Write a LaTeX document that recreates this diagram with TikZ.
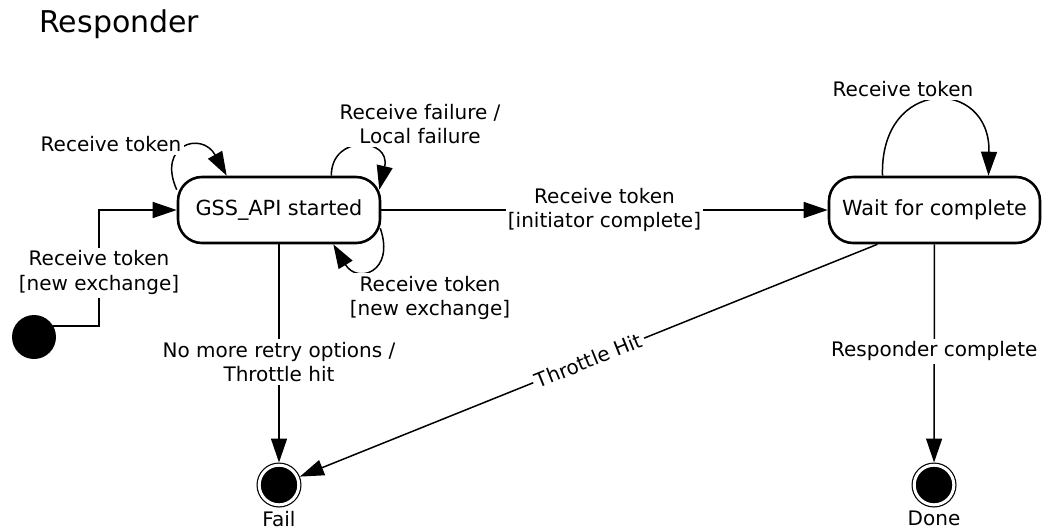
\documentclass[tikz,border=0pt]{standalone}
\usepackage{fontspec}
\setmainfont{DejaVu Sans}
\usetikzlibrary{arrows.meta,calc,positioning}

\begin{document}
\begin{tikzpicture}[x=0.5pt,y=0.5pt,
    state/.style={draw, line width=1.3pt, rounded corners=12pt, minimum height=33pt, font=\fontsize{10.4pt}{12.5pt}\selectfont},
    lbl/.style={fill=white, inner sep=1.5pt, align=center, font=\fontsize{10pt}{12.3pt}\selectfont},
    arr/.style={line width=0.75pt, -{Triangle[length=12pt,width=8pt]}},
    startdot/.style={circle, fill=black, minimum size=22pt, inner sep=0pt},
    enddot/.style={circle, draw, fill=black, line width=0.6pt, double=white, double distance=1.5pt, minimum size=19.8pt, inner sep=0pt, outer sep=1.35pt}]
    \useasboundingbox (0,0) rectangle (1047,-531);
    \node[anchor=base west, inner sep=0pt, font=\fontsize{15pt}{18pt}\selectfont] (title) at (39,-32) {Responder};

    % states
    \node[state, minimum width=101pt] (gss) at (279,-210) {GSS\_API started};
    \node[state, minimum width=105.5pt] (wait) at (934.5,-210) {Wait for complete};
    \node[startdot] (init) at (34,-337) {};
    \node[enddot] (fail) at (279,-485) {};
    \node[enddot] (done) at (934,-485) {};
    \node[lbl, below=0pt of fail] (failtxt) {Fail};
    \node[lbl, below=0pt of done] (donetxt) {Done};

    % transitions
    \coordinate (bend) at (99,-210);
    \draw[arr] (init.30) -| node[lbl, pos=0.73]{Receive token\\{[new exchange]}} (bend) -- (gss.west);
    \draw[arr] ($(gss.north west)+(0,-14)$) .. controls +(-20,45) and +(-25,45) .. ($(gss.north west)+(50,0)$);
    \draw[arr] ($(gss.north east)+(-50,0)$) .. controls +(0,42) and +(12,52) .. ($(gss.north east)+(-2,-14)$);
    \draw[arr] ($(gss.south east)+(-1,16)$) .. controls +(15,-44) and +(24,-40) .. ($(gss.south east)+(-48,0)$);
    \draw[arr] ($(wait.north)+(-52,0)$) .. controls +(-3,99) and +(2,99) .. ($(wait.north)+(54,0)$);
    \node[lbl] (loopa) at (111,-144) {Receive token};
    \node[lbl] (loopb) at (420,-124) {Receive failure /\\Local failure};
    \node[lbl] (loopc) at (430,-298) {Receive token\\{[new exchange]}};
    \node[lbl] (loopd) at (903,-89) {Receive token};
    \draw[arr] (gss) -- node[lbl, inner sep=1pt]{Receive token\\{[initiator complete]}} (wait);
    \draw[arr] (gss) -- node[lbl, pos=0.54]{No more retry options /\\Throttle hit} (fail);
    \draw[arr] (wait.211) -- node[lbl, sloped, pos=0.5]{Throttle Hit} (fail);
    \draw[arr] (wait) -- node[lbl, pos=0.49]{Responder complete} (done);
\end{tikzpicture}
\end{document}
